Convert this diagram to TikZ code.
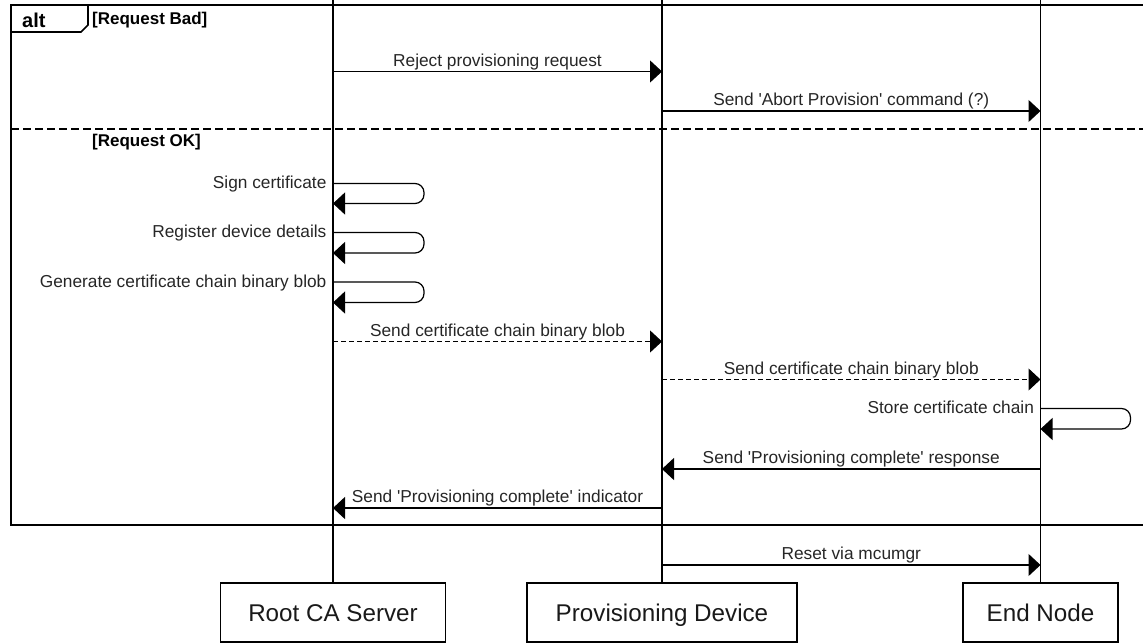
\documentclass[tikz,border=0pt]{standalone}
\usepackage{fontspec}
\setmainfont{Liberation Sans}
\usetikzlibrary{arrows.meta}
\tikzset{
  msg/.style={draw=black,line width=1.2pt,-{Triangle[length=12pt,width=22pt]}},
  reply/.style={msg,dash pattern=on 5pt off 3pt},
  selfmsg/.style={msg,rounded corners=9pt},
  lbl/.style={font=\fontsize{17.3}{20}\selectfont,text=black!85,inner sep=0pt},
  guard/.style={font=\bfseries\fontsize{17}{20}\selectfont,inner sep=0pt,anchor=base west},
  actor/.style={draw,line width=1.2pt,minimum height=59pt,inner sep=0pt,text height=22pt,text depth=5pt,font=\fontsize{24.2}{28}\selectfont,text=black!90},
  life/.style={line width=1.1pt}
}
\begin{document}
\begin{tikzpicture}[x=1pt,y=-1pt]
            \useasboundingbox (0,0) rectangle (1143,643);
            \coordinate (top) at (0,0);
            \node[actor,minimum width=225pt] (rca) at (333,612.5) {Root CA Server};
            \node[actor,minimum width=270pt] (pd) at (662,612.5) {Provisioning Device};
            \node[actor,minimum width=155pt] (en) at (1040.5,612.5) {End Node};

            \draw[life] (rca.north)--(rca |- top);
            \draw[life] (pd.north)--(pd |- top);
            \draw[life] (en.north)--(en |- top);

            \draw[line width=2pt] (1150,5)--(11,5)--(11,525)--(1150,525);
            \draw[line width=1.6pt] (11,5)--(88,5)--(88,25)--(81,32)--(11,32);
            \node[guard,font=\bfseries\fontsize{20}{24}\selectfont] (alt) at (22,27) {alt};
            \node[guard] (bad) at (92,24) {[Request Bad]};
            \draw[line width=2pt,dash pattern=on 8pt off 4pt] (11,129)--(1150,129);
            \node[guard] (ok) at (92,146) {[Request OK]};

            \coordinate (m1) at (0,71.5);
            \coordinate (m2) at (0,111);
            \coordinate (s1) at (0,183.5);
            \coordinate (s1b) at (0,203.5);
            \coordinate (s2) at (0,232.5);
            \coordinate (s2b) at (0,253);
            \coordinate (s3) at (0,282);
            \coordinate (s3b) at (0,302.5);
            \coordinate (m6) at (0,341.5);
            \coordinate (m7) at (0,379.5);
            \coordinate (s4) at (0,408.5);
            \coordinate (s4b) at (0,429);
            \coordinate (m9) at (0,469);
            \coordinate (m10) at (0,508);
            \coordinate (m11) at (0,565);

            \draw[msg](rca |- m1)--node[lbl,anchor=base,yshift=5.5pt]{Reject provisioning request}(pd |- m1);
            \draw[msg](pd |- m2)--node[lbl,anchor=base,yshift=5.5pt]{Send \textquotesingle Abort Provision\textquotesingle{} command (?)}(en |- m2);

            \draw[selfmsg](rca |- s1)node[lbl,anchor=base east,xshift=-6pt,yshift=-5pt]{Sign certificate}--++(91,0)|-(rca |- s1b);
            \draw[selfmsg](rca |- s2)node[lbl,anchor=base east,xshift=-6pt,yshift=-5pt]{Register device details}--++(91,0)|-(rca |- s2b);
            \draw[selfmsg](rca |- s3)node[lbl,anchor=base east,xshift=-6pt,yshift=-5pt]{Generate certificate chain binary blob}--++(91,0)|-(rca |- s3b);

            \draw[reply](rca |- m6)--node[lbl,anchor=base,yshift=5.5pt]{Send certificate chain binary blob}(pd |- m6);
            \draw[reply](pd |- m7)--node[lbl,anchor=base,yshift=5.5pt]{Send certificate chain binary blob}(en |- m7);

            \draw[selfmsg](en |- s4)node[lbl,anchor=base east,xshift=-6pt,yshift=-5pt]{Store certificate chain}--++(90,0)|-(en |- s4b);

            \draw[msg](en |- m9)--node[lbl,anchor=base,yshift=5.5pt]{Send \textquotesingle Provisioning complete\textquotesingle{} response}(pd |- m9);
            \draw[msg](pd |- m10)--node[lbl,anchor=base,yshift=5.5pt]{Send \textquotesingle Provisioning complete\textquotesingle{} indicator}(rca |- m10);
            \draw[msg](pd |- m11)--node[lbl,anchor=base,yshift=5.5pt]{Reset via mcumgr}(en |- m11);
        \end{tikzpicture}
\end{document}
